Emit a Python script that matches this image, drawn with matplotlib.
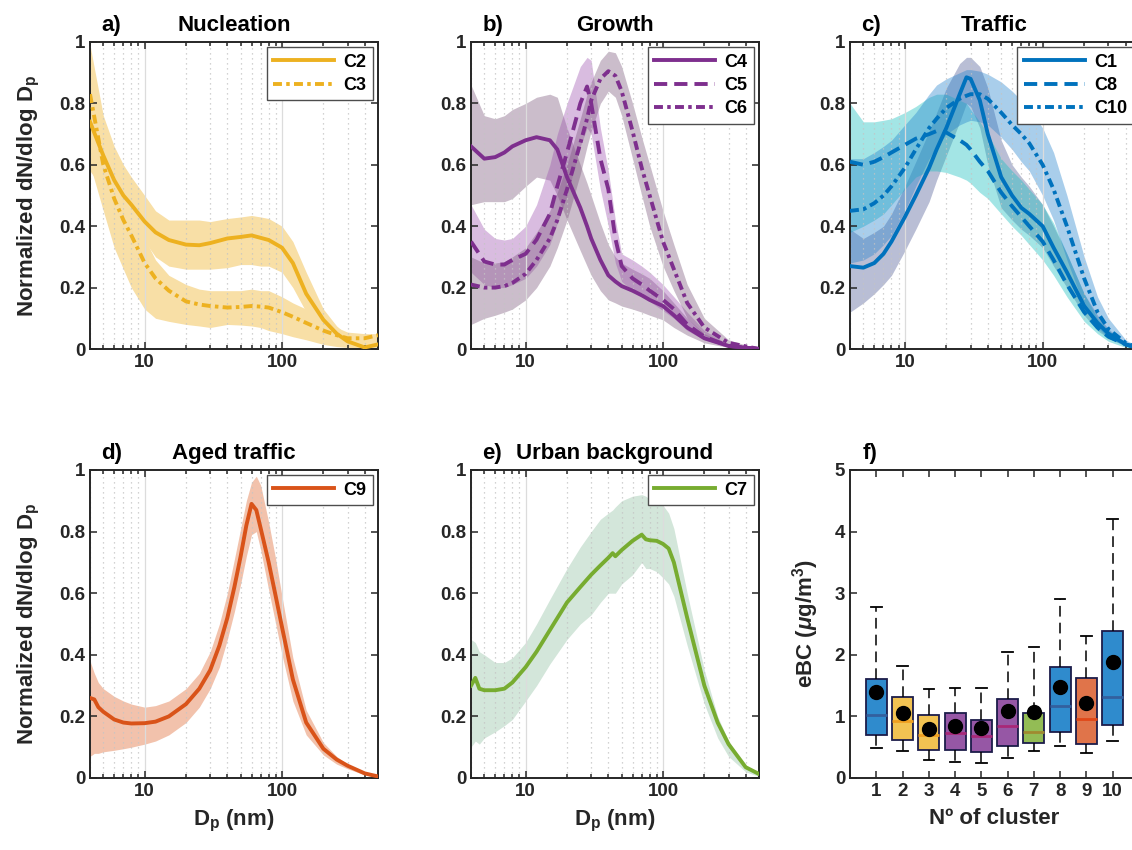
import numpy as np
import matplotlib
matplotlib.use('Agg')
import matplotlib.pyplot as plt
from matplotlib.ticker import FixedLocator, NullFormatter, LogLocator, FuncFormatter

plt.rcParams['font.family'] = ['Liberation Sans', 'DejaVu Sans']
plt.rcParams['font.weight'] = 'bold'
plt.rcParams['mathtext.fontset'] = 'custom'
plt.rcParams['mathtext.rm'] = 'Liberation Sans:bold'
plt.rcParams['mathtext.bf'] = 'Liberation Sans:bold'
plt.rcParams['mathtext.it'] = 'Liberation Sans:italic:bold'

# ---------------- data ----------------
# panel a (Nucleation)
dp_a = [4, 5, 6, 7, 8, 10, 12, 15, 20, 25, 30, 40, 50, 60, 70, 80, 100, 120, 150, 200, 250, 300, 400, 500]
c2_mean = [0.74, 0.63, 0.55, 0.50, 0.47, 0.415, 0.38, 0.355, 0.34, 0.338, 0.345, 0.36, 0.365, 0.37, 0.362, 0.355, 0.33, 0.28, 0.18, 0.095, 0.05, 0.025, 0.005, 0.015]
c2_up = [0.99, 0.76, 0.66, 0.60, 0.56, 0.50, 0.45, 0.42, 0.42, 0.42, 0.415, 0.425, 0.43, 0.435, 0.43, 0.425, 0.40, 0.35, 0.25, 0.13, 0.075, 0.045, 0.02, 0.02]
c2_lo = [0.58, 0.52, 0.47, 0.43, 0.40, 0.35, 0.30, 0.27, 0.26, 0.26, 0.26, 0.265, 0.275, 0.275, 0.27, 0.27, 0.25, 0.20, 0.12, 0.05, 0.02, 0.01, 0.0, 0.0]
c3_mean = [0.83, 0.60, 0.49, 0.42, 0.37, 0.28, 0.23, 0.19, 0.155, 0.145, 0.14, 0.135, 0.137, 0.14, 0.138, 0.135, 0.12, 0.105, 0.085, 0.06, 0.045, 0.035, 0.035, 0.045]
c3_up = [0.85, 0.72, 0.60, 0.50, 0.44, 0.36, 0.29, 0.24, 0.21, 0.195, 0.19, 0.19, 0.19, 0.195, 0.19, 0.19, 0.17, 0.15, 0.13, 0.09, 0.07, 0.055, 0.05, 0.05]
c3_lo = [0.60, 0.45, 0.33, 0.26, 0.20, 0.13, 0.10, 0.09, 0.08, 0.075, 0.07, 0.08, 0.078, 0.075, 0.07, 0.06, 0.05, 0.04, 0.03, 0.015, 0.008, 0.005, 0.002, 0.0]

# panel b (Growth)
dp_b = [4, 5, 6, 7, 8, 10, 12, 15, 17, 20, 25, 28, 30, 35, 40, 45, 50, 60, 70, 80, 100, 120, 150, 200, 300, 500]
c4_mean = [0.66, 0.62, 0.625, 0.64, 0.66, 0.68, 0.69, 0.68, 0.65, 0.56, 0.46, 0.40, 0.36, 0.29, 0.24, 0.22, 0.205, 0.19, 0.175, 0.16, 0.14, 0.11, 0.07, 0.035, 0.01, 0.0]
c4_up = [0.86, 0.76, 0.75, 0.76, 0.78, 0.80, 0.82, 0.83, 0.82, 0.72, 0.60, 0.54, 0.50, 0.41, 0.34, 0.30, 0.28, 0.26, 0.245, 0.23, 0.19, 0.15, 0.10, 0.05, 0.015, 0.0]
c4_lo = [0.47, 0.48, 0.48, 0.48, 0.49, 0.53, 0.56, 0.55, 0.50, 0.42, 0.32, 0.27, 0.24, 0.19, 0.16, 0.15, 0.14, 0.13, 0.12, 0.11, 0.095, 0.07, 0.045, 0.02, 0.005, 0.0]
c5_mean = [0.35, 0.285, 0.275, 0.275, 0.29, 0.31, 0.356, 0.44, 0.53, 0.64, 0.80, 0.855, 0.80, 0.62, 0.52, 0.36, 0.27, 0.23, 0.21, 0.19, 0.16, 0.13, 0.08, 0.04, 0.01, 0.0]
c5_up = [0.47, 0.39, 0.36, 0.355, 0.36, 0.40, 0.47, 0.60, 0.70, 0.80, 0.92, 0.95, 0.94, 0.72, 0.58, 0.42, 0.31, 0.29, 0.27, 0.25, 0.21, 0.17, 0.12, 0.06, 0.015, 0.0]
c5_lo = [0.25, 0.21, 0.20, 0.20, 0.21, 0.23, 0.27, 0.34, 0.41, 0.50, 0.66, 0.72, 0.70, 0.52, 0.40, 0.28, 0.22, 0.19, 0.17, 0.155, 0.125, 0.10, 0.06, 0.03, 0.005, 0.0]
c6_mean = [0.21, 0.20, 0.20, 0.205, 0.215, 0.245, 0.29, 0.36, 0.42, 0.52, 0.67, 0.75, 0.81, 0.88, 0.905, 0.89, 0.84, 0.71, 0.59, 0.50, 0.35, 0.26, 0.15, 0.07, 0.02, 0.0]
c6_up = [0.30, 0.28, 0.28, 0.285, 0.30, 0.33, 0.38, 0.45, 0.51, 0.60, 0.75, 0.83, 0.87, 0.94, 0.97, 0.965, 0.92, 0.80, 0.69, 0.60, 0.45, 0.34, 0.21, 0.10, 0.03, 0.0]
c6_lo = [0.08, 0.10, 0.11, 0.12, 0.13, 0.16, 0.20, 0.27, 0.33, 0.42, 0.57, 0.66, 0.71, 0.80, 0.84, 0.82, 0.76, 0.62, 0.50, 0.40, 0.27, 0.19, 0.10, 0.045, 0.01, 0.0]

# panel c (Traffic)
dp_c = [4, 5, 6, 7, 8, 10, 12, 15, 17, 20, 25, 28, 30, 35, 40, 50, 60, 70, 80, 100, 120, 150, 200, 250, 300, 400, 500]
c1_mean = [0.27, 0.265, 0.28, 0.31, 0.35, 0.43, 0.50, 0.59, 0.65, 0.72, 0.83, 0.885, 0.88, 0.81, 0.70, 0.56, 0.50, 0.46, 0.44, 0.40, 0.33, 0.25, 0.14, 0.085, 0.05, 0.015, 0.003]
c1_up = [0.39, 0.36, 0.38, 0.40, 0.44, 0.53, 0.61, 0.71, 0.77, 0.85, 0.93, 0.95, 0.95, 0.92, 0.85, 0.68, 0.60, 0.56, 0.53, 0.47, 0.40, 0.31, 0.18, 0.11, 0.065, 0.02, 0.005]
c1_lo = [0.12, 0.15, 0.18, 0.21, 0.24, 0.32, 0.39, 0.48, 0.55, 0.63, 0.74, 0.80, 0.79, 0.72, 0.60, 0.46, 0.42, 0.39, 0.37, 0.33, 0.27, 0.20, 0.11, 0.06, 0.035, 0.01, 0.0]
c8_mean = [0.61, 0.60, 0.61, 0.625, 0.64, 0.665, 0.685, 0.70, 0.71, 0.705, 0.68, 0.665, 0.65, 0.61, 0.58, 0.51, 0.465, 0.43, 0.40, 0.35, 0.29, 0.21, 0.12, 0.07, 0.04, 0.015, 0.002]
c8_up = [0.80, 0.74, 0.74, 0.745, 0.75, 0.77, 0.79, 0.82, 0.83, 0.83, 0.81, 0.80, 0.78, 0.74, 0.70, 0.62, 0.58, 0.55, 0.52, 0.47, 0.41, 0.31, 0.18, 0.10, 0.06, 0.02, 0.003]
c8_lo = [0.38, 0.40, 0.42, 0.44, 0.47, 0.52, 0.56, 0.58, 0.58, 0.575, 0.56, 0.55, 0.54, 0.51, 0.49, 0.44, 0.40, 0.37, 0.34, 0.29, 0.24, 0.17, 0.09, 0.05, 0.025, 0.005, 0.0]
c10_mean = [0.45, 0.455, 0.475, 0.50, 0.53, 0.59, 0.65, 0.72, 0.75, 0.785, 0.815, 0.825, 0.83, 0.83, 0.815, 0.77, 0.73, 0.70, 0.67, 0.60, 0.52, 0.40, 0.23, 0.12, 0.065, 0.02, 0.003]
c10_up = [0.62, 0.62, 0.64, 0.66, 0.68, 0.73, 0.77, 0.83, 0.86, 0.88, 0.90, 0.91, 0.91, 0.905, 0.895, 0.87, 0.84, 0.81, 0.78, 0.72, 0.64, 0.50, 0.30, 0.17, 0.10, 0.03, 0.005]
c10_lo = [0.28, 0.29, 0.31, 0.34, 0.37, 0.45, 0.53, 0.62, 0.66, 0.70, 0.73, 0.74, 0.745, 0.74, 0.73, 0.69, 0.65, 0.61, 0.58, 0.50, 0.42, 0.29, 0.14, 0.07, 0.035, 0.01, 0.0]

# panel d (Aged traffic)
dp_d = [4, 4.3, 4.6, 5, 6, 7, 8, 10, 12, 15, 20, 25, 30, 35, 40, 45, 50, 55, 60, 65, 70, 80, 90, 100, 120, 150, 200, 250, 300, 400, 500]
c9_mean = [0.26, 0.255, 0.23, 0.215, 0.19, 0.18, 0.177, 0.178, 0.183, 0.20, 0.24, 0.29, 0.35, 0.43, 0.52, 0.62, 0.72, 0.82, 0.89, 0.87, 0.81, 0.70, 0.59, 0.49, 0.32, 0.18, 0.095, 0.06, 0.04, 0.015, 0.005]
c9_up = [0.38, 0.34, 0.31, 0.29, 0.265, 0.25, 0.24, 0.23, 0.235, 0.25, 0.29, 0.34, 0.41, 0.50, 0.60, 0.71, 0.81, 0.90, 0.96, 0.98, 0.95, 0.83, 0.71, 0.59, 0.39, 0.22, 0.115, 0.07, 0.045, 0.02, 0.008]
c9_lo = [0.07, 0.08, 0.08, 0.085, 0.09, 0.095, 0.10, 0.11, 0.12, 0.14, 0.18, 0.23, 0.29, 0.36, 0.45, 0.54, 0.63, 0.72, 0.79, 0.80, 0.74, 0.61, 0.50, 0.40, 0.25, 0.14, 0.075, 0.045, 0.03, 0.01, 0.002]

# panel e (Urban background)
dp_e = [4, 4.3, 4.6, 5, 6, 7, 8, 10, 12, 15, 20, 25, 30, 35, 40, 43, 45, 50, 60, 70, 75, 80, 90, 100, 110, 120, 150, 200, 250, 300, 400, 500]
c7_mean = [0.30, 0.325, 0.29, 0.285, 0.285, 0.29, 0.31, 0.36, 0.41, 0.48, 0.57, 0.62, 0.66, 0.69, 0.715, 0.73, 0.72, 0.74, 0.77, 0.79, 0.775, 0.772, 0.77, 0.76, 0.745, 0.70, 0.52, 0.30, 0.18, 0.11, 0.035, 0.013]
c7_up = [0.45, 0.44, 0.41, 0.40, 0.375, 0.375, 0.39, 0.44, 0.50, 0.58, 0.68, 0.75, 0.80, 0.84, 0.86, 0.87, 0.88, 0.90, 0.915, 0.92, 0.915, 0.905, 0.89, 0.885, 0.86, 0.81, 0.60, 0.35, 0.20, 0.12, 0.04, 0.015]
c7_lo = [0.10, 0.12, 0.11, 0.13, 0.15, 0.17, 0.19, 0.25, 0.30, 0.37, 0.45, 0.50, 0.53, 0.57, 0.60, 0.60, 0.60, 0.63, 0.66, 0.70, 0.68, 0.68, 0.67, 0.65, 0.63, 0.59, 0.43, 0.24, 0.13, 0.07, 0.02, 0.005]

# panel f (eBC boxplots)
clusters = [1, 2, 3, 4, 5, 6, 7, 8, 9, 10]
ebc_q1 = [0.695, 0.62, 0.46, 0.46, 0.42, 0.52, 0.565, 0.74, 0.56, 0.86]
ebc_med = [1.02, 0.93, 0.695, 0.73, 0.68, 0.85, 0.745, 1.17, 0.96, 1.32]
ebc_q3 = [1.60, 1.31, 1.03, 1.06, 0.945, 1.29, 1.06, 1.80, 1.62, 2.39]
ebc_wlo = [0.49, 0.44, 0.29, 0.26, 0.245, 0.33, 0.44, 0.515, 0.40, 0.60]
ebc_whi = [2.77, 1.82, 1.45, 1.455, 1.465, 2.05, 2.13, 2.90, 2.30, 4.20]
ebc_mean = [1.39, 1.05, 0.80, 0.85, 0.81, 1.085, 1.075, 1.48, 1.21, 1.88]

# ---------------- styling ----------------
AX = '#262626'
LW = 2.8
DASH = (3.4, 1.8)
DASHDOT = (2.3, 1.1, 0.9, 1.1)
YELLOW = '#EDB120'
PURPLE = '#7E2F8E'
BLUE = '#0072BD'
ORANGE = '#D95319'
GREEN = '#77AC30'

fig = plt.figure(figsize=(11.32, 8.5), dpi=100)
W = 288 / 1132
H1 = 307 / 850
H2 = 308 / 850
lefts = [90 / 1132, 471 / 1132, 850 / 1132]
b1 = 1 - 349 / 850
b2 = 1 - 778 / 850

ax_a = fig.add_axes([lefts[0], b1, W, H1])
ax_b = fig.add_axes([lefts[1], b1, W, H1])
ax_c = fig.add_axes([lefts[2], b1, 289 / 1132, H1])
ax_d = fig.add_axes([lefts[0], b2, W, H2])
ax_e = fig.add_axes([lefts[1], b2, W, H2])
ax_f = fig.add_axes([lefts[2], b2, 289 / 1132, H2])

TICK_FS = 13.5
LAB_FS = 16
TITLE_FS = 16


def style_common(ax):
    for s in ax.spines.values():
        s.set_linewidth(1.4)
        s.set_color(AX)
    ax.tick_params(which='both', direction='in', top=True, right=True,
                   colors=AX, labelsize=TICK_FS, width=1.1)
    ax.tick_params(which='major', length=5)
    ax.tick_params(which='minor', length=3)
    for lab in ax.get_xticklabels() + ax.get_yticklabels():
        lab.set_fontweight('bold')


def panel_letter(ax, letter, x=0.04):
    ax.annotate(letter, xy=(x, 1.0), xycoords='axes fraction', xytext=(0, 8),
                textcoords='offset points', fontsize=TITLE_FS, fontweight='bold',
                ha='left', va='baseline')


def style_dist(ax, letter, title, xlabel=False, ylabel=False):
    ax.set_xscale('log')
    ax.set_xlim(4, 500)
    ax.set_ylim(0, 1)
    ax.xaxis.set_major_locator(FixedLocator([10, 100]))
    ax.xaxis.set_major_formatter(FuncFormatter(lambda v, p: '%d' % round(v)))
    ax.xaxis.set_minor_locator(LogLocator(base=10, subs=np.arange(2, 10), numticks=20))
    ax.xaxis.set_minor_formatter(NullFormatter())
    ax.yaxis.set_major_locator(FixedLocator([0, 0.2, 0.4, 0.6, 0.8, 1.0]))
    ax.set_yticklabels(['0', '0.2', '0.4', '0.6', '0.8', '1'])
    ax.grid(which='major', axis='x', color='#dcdcdc', lw=0.9, ls='-')
    ax.grid(which='minor', axis='x', color='#c4c4c4', lw=0.9, ls=(0, (1, 3)))
    ax.set_axisbelow('line')
    style_common(ax)
    ax.set_title(title, fontsize=TITLE_FS, fontweight='bold', pad=8, color='black')
    panel_letter(ax, letter)
    if ylabel:
        ax.set_ylabel(r'Normalized dN/dlog D$_\mathbf{p}$', fontsize=LAB_FS,
                      fontweight='bold', color=AX, labelpad=12)
    if xlabel:
        ax.set_xlabel(r'D$_\mathbf{p}$ (nm)', fontsize=LAB_FS, fontweight='bold',
                      color=AX, labelpad=6)


def band(ax, x, lo, up, color, alpha=1.0):
    ax.fill_between(x, lo, up, color=color, alpha=alpha, lw=0, zorder=1)


def curve(ax, x, y, color, style, label):
    kw = dict(color=color, lw=LW, label=label, zorder=3)
    if style == '-':
        ax.plot(x, y, '-', **kw)
    elif style == '--':
        ax.plot(x, y, '--', dashes=DASH, **kw)
    else:
        ax.plot(x, y, '-.', dashes=DASHDOT, **kw)


def legend(ax):
    leg = ax.legend(loc='upper right', fontsize=13, handlelength=3.4,
                    borderaxespad=0.3, labelspacing=0.35, fancybox=False,
                    framealpha=1, edgecolor='#4d4d4d', borderpad=0.35,
                    handletextpad=0.5)
    leg.get_frame().set_linewidth(1.0)
    for t in leg.get_texts():
        t.set_fontweight('bold')
    leg.set_zorder(10)


# a) Nucleation
band(ax_a, dp_a, c2_lo, c2_up, '#f8dfa6')
band(ax_a, dp_a, c3_lo, c3_up, '#f8dfa6')
curve(ax_a, dp_a, c2_mean, YELLOW, '-', 'C2')
curve(ax_a, dp_a, c3_mean, YELLOW, '-.', 'C3')
style_dist(ax_a, 'a)', 'Nucleation', ylabel=True)
legend(ax_a)

# b) Growth
band(ax_b, dp_b, c4_lo, c4_up, '#7d5a7d', 0.4)
band(ax_b, dp_b, c5_lo, c5_up, '#9b4fae', 0.38)
band(ax_b, dp_b, c6_lo, c6_up, '#7d5a7d', 0.4)
curve(ax_b, dp_b, c4_mean, PURPLE, '-', 'C4')
curve(ax_b, dp_b, c5_mean, PURPLE, '--', 'C5')
curve(ax_b, dp_b, c6_mean, PURPLE, '-.', 'C6')
style_dist(ax_b, 'b)', 'Growth')
legend(ax_b)

# c) Traffic
band(ax_c, dp_c, c1_lo, c1_up, '#2b3a80', 0.33)
band(ax_c, dp_c, c8_lo, c8_up, '#1ac0c0', 0.4)
band(ax_c, dp_c, c10_lo, c10_up, '#1f7fcc', 0.38)
curve(ax_c, dp_c, c1_mean, BLUE, '-', 'C1')
curve(ax_c, dp_c, c8_mean, BLUE, '--', 'C8')
curve(ax_c, dp_c, c10_mean, BLUE, '-.', 'C10')
style_dist(ax_c, 'c)', 'Traffic')
legend(ax_c)

# d) Aged traffic
band(ax_d, dp_d, c9_lo, c9_up, '#f2c2ac')
curve(ax_d, dp_d, c9_mean, ORANGE, '-', 'C9')
style_dist(ax_d, 'd)', 'Aged traffic', xlabel=True, ylabel=True)
legend(ax_d)

# e) Urban background
band(ax_e, dp_e, c7_lo, c7_up, '#d3e6da')
curve(ax_e, dp_e, c7_mean, GREEN, '-', 'C7')
style_dist(ax_e, 'e)', 'Urban background', xlabel=True)
legend(ax_e)

# f) eBC boxplots
box_face = ['#2f8bcd', '#f2c352', '#f2c352', '#9657a5', '#9657a5', '#9657a5',
            '#93bc55', '#2f8bcd', '#e0744a', '#2f8bcd']
med_col = ['#33609e', '#f0a020', '#f0a020', '#a82878', '#a82878', '#a82878',
           '#a08a30', '#33609e', '#e04818', '#33609e']
stats = []
for i in range(len(clusters)):
    stats.append(dict(med=ebc_med[i], q1=ebc_q1[i], q3=ebc_q3[i],
                      whislo=ebc_wlo[i], whishi=ebc_whi[i], fliers=[]))
bp = ax_f.bxp(stats, positions=clusters, widths=0.8, patch_artist=True,
              showfliers=False, capwidths=0.4,
              boxprops=dict(edgecolor='#1c1c4a', linewidth=1.3),
              whiskerprops=dict(color='black', linewidth=1.1, linestyle=(0, (7, 4))),
              capprops=dict(color='black', linewidth=1.3),
              medianprops=dict(linewidth=2.0))
for i, patch in enumerate(bp['boxes']):
    patch.set_facecolor(box_face[i])
for i, m in enumerate(bp['medians']):
    m.set_color(med_col[i])
ax_f.plot(clusters, ebc_mean, 'o', color='black', ms=10, zorder=5)
ax_f.set_xlim(0, 11)
ax_f.set_ylim(0, 5)
ax_f.xaxis.set_major_locator(FixedLocator(clusters))
ax_f.set_xticklabels([str(c) for c in clusters])
ax_f.yaxis.set_major_locator(FixedLocator([0, 1, 2, 3, 4, 5]))
ax_f.set_yticklabels(['0', '1', '2', '3', '4', '5'])
style_common(ax_f)
panel_letter(ax_f, 'f)', x=0.045)
ax_f.set_xlabel('Nº of cluster', fontsize=LAB_FS, fontweight='bold', color=AX, labelpad=6)
ax_f.set_ylabel(r'eBC ($\mu$g/m$^\mathbf{3}$)', fontsize=LAB_FS, fontweight='bold',
                color=AX, labelpad=10)

fig.savefig('out.png', dpi=100)
